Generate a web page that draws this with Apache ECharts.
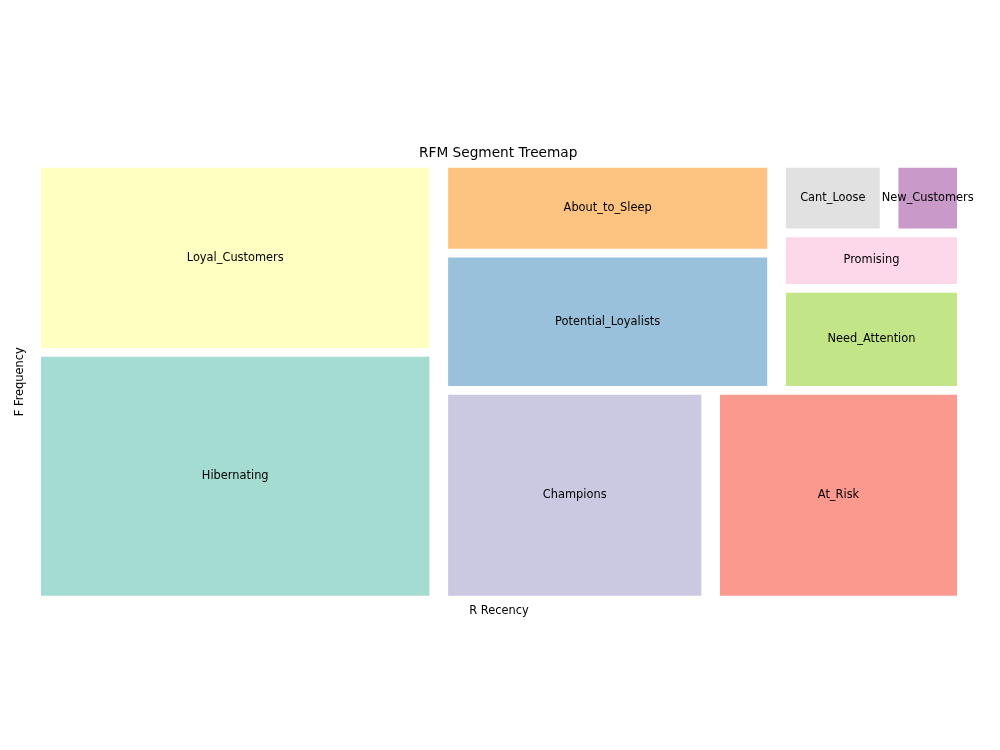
<!DOCTYPE html>
<html>
<head>
<meta charset="utf-8">
<title>RFM Segment Treemap</title>
<script src="https://cdn.jsdelivr.net/npm/echarts@6/dist/echarts.min.js"></script>
<style>
  html, body { margin: 0; padding: 0; background: #fff; }
  #main { width: 1000px; height: 750px; }
</style>
</head>
<body>
<div id="main"></div>
<script>
// segment names and customer counts (sorted descending, as squarify expects)
var segments = ['Hibernating', 'Loyal_Customers', 'Champions', 'At_Risk', 'Potential_Loyalists',
                'About_to_Sleep', 'Need_Attention', 'Promising', 'Cant_Loose', 'New_Customers'];
var counts = [1072, 818, 606, 570, 493, 322, 206, 112, 83, 57];
// matplotlib Set3
var palette = ['#8dd3c7', '#ffffb3', '#bebada', '#fb8072', '#80b1d3',
               '#fdb462', '#b3de69', '#fccde5', '#d9d9d9', '#bc80bd'];

var NORM = 100;

// squarify (same steps as the python package)
function layoutrow(sizes, x, y, dx, dy) {
	var area = sizes.reduce(function (a, b) { return a + b; }, 0);
	var width = area / dy, rects = [];
	sizes.forEach(function (s) {
		rects.push({ x: x, y: y, dx: width, dy: s / width });
		y += s / width;
	});
	return rects;
}
function layoutcol(sizes, x, y, dx, dy) {
	var area = sizes.reduce(function (a, b) { return a + b; }, 0);
	var height = area / dx, rects = [];
	sizes.forEach(function (s) {
		rects.push({ x: x, y: y, dx: s / height, dy: height });
		x += s / height;
	});
	return rects;
}
function layout(sizes, x, y, dx, dy) {
	return dx >= dy ? layoutrow(sizes, x, y, dx, dy) : layoutcol(sizes, x, y, dx, dy);
}
function leftover(sizes, x, y, dx, dy) {
	var area = sizes.reduce(function (a, b) { return a + b; }, 0);
	if (dx >= dy) {
		var w = area / dy;
		return [x + w, y, dx - w, dy];
	}
	var h = area / dx;
	return [x, y + h, dx, dy - h];
}
function worstRatio(sizes, x, y, dx, dy) {
	return Math.max.apply(null, layout(sizes, x, y, dx, dy).map(function (r) {
		return Math.max(r.dx / r.dy, r.dy / r.dx);
	}));
}
function squarify(sizes, x, y, dx, dy) {
	if (sizes.length === 0) return [];
	if (sizes.length === 1) return layout(sizes, x, y, dx, dy);
	var i = 1;
	while (i < sizes.length &&
	       worstRatio(sizes.slice(0, i), x, y, dx, dy) >= worstRatio(sizes.slice(0, i + 1), x, y, dx, dy)) {
		i++;
	}
	var cur = sizes.slice(0, i), rest = sizes.slice(i);
	var lo = leftover(cur, x, y, dx, dy);
	return layout(cur, x, y, dx, dy).concat(squarify(rest, lo[0], lo[1], lo[2], lo[3]));
}

var total = counts.reduce(function (a, b) { return a + b; }, 0);
var normed = counts.map(function (c) { return c * NORM * NORM / total; });
var rects = squarify(normed, 0, 0, NORM, NORM);
// pad like squarify.padded_rects
rects.forEach(function (r) {
	if (r.dx > 2) { r.x += 1; r.dx -= 2; }
	if (r.dy > 2) { r.y += 1; r.dy -= 2; }
});

var seriesData = rects.map(function (r, i) {
	return [r.x, r.y, r.dx, r.dy, segments[i], i];
});

var myChart = echarts.init(document.getElementById('main'));
var option = {
	animation: false,
	title: {
		text: 'RFM Segment Treemap',
		left: 414,
		top: 141,
		textStyle: { fontFamily: 'DejaVu Sans', fontSize: 13.7, fontWeight: 'normal', color: '#000' }
	},
	grid: { left: 31.65, right: 33.65, top: 163.4, bottom: 149.9 },
	xAxis: {
		type: 'value', min: 0, max: NORM,
		name: 'R Recency', nameLocation: 'middle', nameGap: 5,
		nameTextStyle: { fontFamily: 'DejaVu Sans', fontSize: 11.4, color: '#000', verticalAlign: 'top' },
		axisLine: { show: false }, axisTick: { show: false }, axisLabel: { show: false }, splitLine: { show: false }
	},
	yAxis: {
		type: 'value', min: 0, max: NORM,
		name: 'F Frequency', nameLocation: 'middle', nameGap: 6,
		nameTextStyle: { fontFamily: 'DejaVu Sans', fontSize: 11.4, color: '#000' },
		axisLine: { show: false }, axisTick: { show: false }, axisLabel: { show: false }, splitLine: { show: false }
	},
	series: [{
		type: 'custom',
		clip: false,
		data: seriesData,
		encode: { x: 0, y: 1 },
		renderItem: function (params, api) {
			var x = api.value(0), y = api.value(1), dx = api.value(2), dy = api.value(3);
			var p0 = api.coord([x, y + dy]);
			var p1 = api.coord([x + dx, y]);
			var idx = api.value(5);
			return {
				type: 'group',
				children: [{
					type: 'rect',
					shape: { x: p0[0], y: p0[1], width: p1[0] - p0[0], height: p1[1] - p0[1] },
					style: { fill: palette[idx], opacity: 0.8 }
				}, {
					type: 'text',
					style: {
						x: (p0[0] + p1[0]) / 2,
						y: (p0[1] + p1[1]) / 2,
						text: segments[idx],
						align: 'center',
						verticalAlign: 'middle',
						fontFamily: 'DejaVu Sans',
						fontSize: 11.4,
						fill: '#000'
					}
				}]
			};
		}
	}]
};
myChart.setOption(option);
</script>
</body>
</html>
